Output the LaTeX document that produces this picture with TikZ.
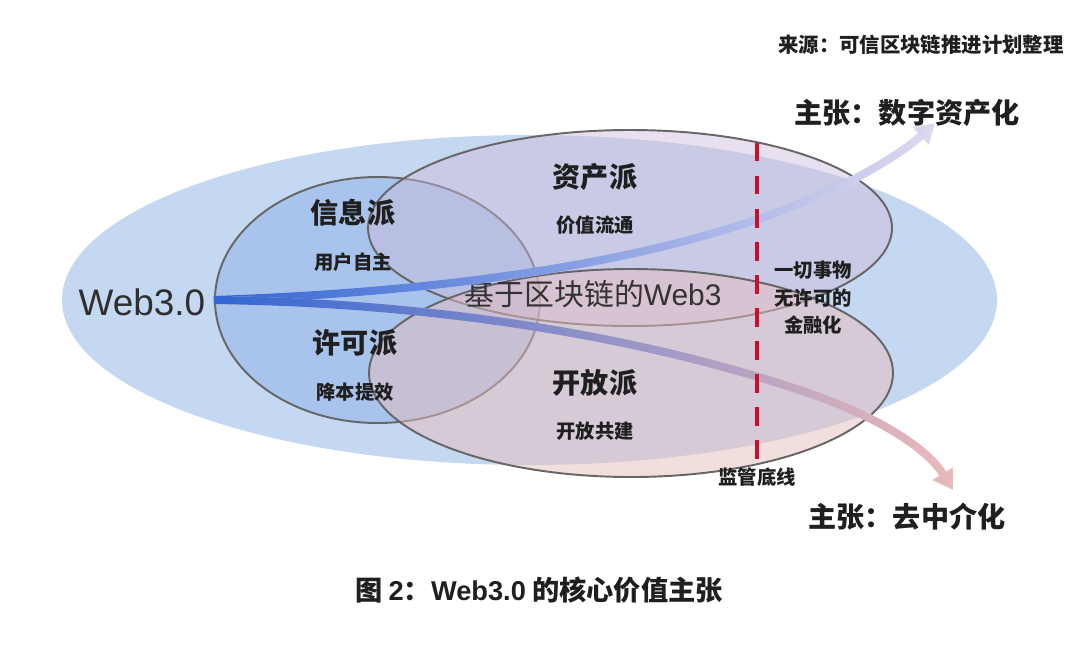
\documentclass[tikz,border=0pt]{standalone}
\usepackage{fontspec}
\setmainfont{Noto Sans CJK SC}
\newfontfamily\latinfont{Liberation Sans}
\usepackage{xcolor}
\usetikzlibrary{shapes.geometric, arrows.meta, positioning, fadings}
\definecolor{webblue}{HTML}{C5D8F1}
\definecolor{infoblue}{HTML}{A8C3EC}
\definecolor{assetcolor}{HTML}{CCBBDA}
\definecolor{opencolor}{HTML}{E7BDBD}
\definecolor{flowblue}{HTML}{3166D6}
\definecolor{assetend}{HTML}{E0DBEF}
\definecolor{openend}{HTML}{EDBBBB}
\definecolor{zoneborder}{HTML}{666666}
\definecolor{regred}{HTML}{C8102E}
\tikzfading[name=flowfade, left color=transparent!0, middle color=transparent!15, right color=transparent!100]

\begin{document}
\begin{tikzpicture}[text=black!88,
    zone/.style={ellipse, draw=zoneborder, line width=1.1pt, inner sep=0pt},
    title/.style={font=\fontsize{16}{18}\selectfont\bfseries},
    sub/.style={font=\fontsize{11}{13}\selectfont\bfseries},
    claim/.style={font=\fontsize{16}{18}\selectfont\bfseries},
    flow/.style={line width=4.6pt, -{Triangle[length=11pt, width=13pt]}}
]
\useasboundingbox (0,0) rectangle (21.6,-13.18);

% Web3.0 region and the four schools
\node[ellipse, fill=webblue, inner sep=0pt, minimum width=18.7cm, minimum height=6.6cm] (web) at (10.59,-6.0) {};
\node[zone, fill=infoblue, minimum width=6.5cm, minimum height=4.92cm] (lc) at (7.55,-6.0) {};
\node[zone, fill=assetcolor, fill opacity=0.45, minimum width=10.48cm, minimum height=3.92cm] (asset) at (12.6,-4.56) {};
\node[zone, fill=opencolor, fill opacity=0.5, minimum width=10.48cm, minimum height=4.16cm] (open) at (12.62,-7.46) {};

% Labels inside
\node[font=\latinfont\fontsize{21}{24}\selectfont, text=black!82] (webtxt) at (2.84,-6.04) {Web3.0};
\node[title] (info) at (7.06,-4.26) {信息派};
\node[sub] (infosub) at (7.06,-5.24) {用户自主};
\node[title] (perm) at (7.10,-6.86) {许可派};
\node[sub] (permsub) at (7.10,-7.84) {降本提效};
\node[title] (assettxt) at (11.9,-3.54) {资产派};
\node[sub] (assetsub) at (11.9,-4.5) {价值流通};
\node[title] (opentxt) at (11.9,-7.66) {开放派};
\node[sub] (opensub) at (11.9,-8.62) {开放共建};
\node[font=\fontsize{17}{20}\selectfont, text=black!80] (core) at (11.86,-5.88) {基于区块链的{\latinfont Web3}};

% Two claims
\coordinate (tipup) at (18.7,-2.46);
\coordinate (tipdown) at (19.06,-9.8);
\draw[flow, assetend] (lc.west) .. controls (9.0,-5.84) and (13.0,-5.24) .. (15.8,-4.16) .. controls (17.0,-3.7) and (18.0,-3.1) .. (tipup);
\draw[flow, flowblue, path fading=flowfade] (lc.west) .. controls (9.0,-5.84) and (13.0,-5.24) .. (15.8,-4.16) .. controls (17.0,-3.7) and (18.0,-3.1) .. (tipup);
\draw[flow, openend] (lc.west) .. controls (9.0,-6.06) and (13.0,-6.8) .. (16.0,-7.8) .. controls (17.4,-8.26) and (18.5,-8.9) .. (tipdown);
\draw[flow, flowblue, path fading=flowfade] (lc.west) .. controls (9.0,-6.06) and (13.0,-6.8) .. (16.0,-7.8) .. controls (17.4,-8.26) and (18.5,-8.9) .. (tipdown);

% Regulation baseline
\coordinate (regtop) at (15.14,-2.86);
\node[sub] (reg) at (15.14,-9.54) {监管底线};
\draw[regred, line width=2.5pt, dash pattern=on 10.5pt off 8.3pt] (regtop) -- (reg.north);
\node[sub, align=center, font=\fontsize{11}{15.6}\selectfont\bfseries] (finance) at (16.26,-5.96) {一切事物\\无许可的\\金融化};

\node[claim] (claimup) at (18.14,-2.26) {主张：数字资产化};
\node[claim] (claimdown) at (18.14,-10.34) {主张：去中介化};

% Source and caption
\node[font=\fontsize{11.6}{13}\selectfont\bfseries, anchor=east, inner sep=0pt] (source) at (21.28,-0.9) {来源：可信区块链推进计划整理};
\node[font=\fontsize{15.5}{17}\selectfont\bfseries] (caption) at (10.78,-11.8) {图 {\latinfont 2}：{\latinfont Web3.0} 的核心价值主张};

\end{tikzpicture}
\end{document}
